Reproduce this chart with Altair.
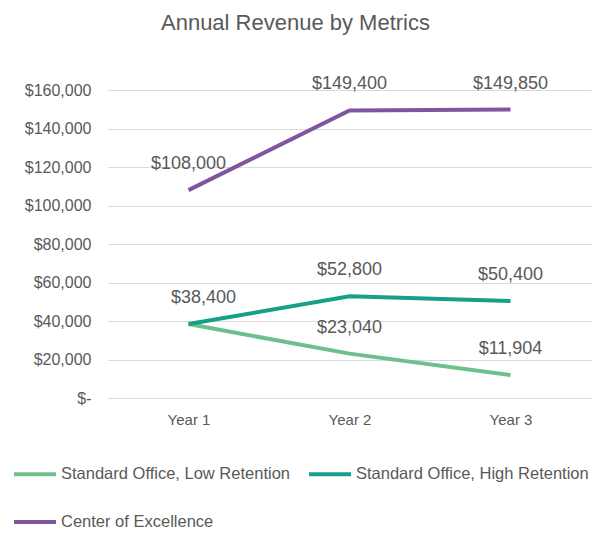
import altair as alt
import pandas as pd

years = ["Year 1", "Year 2", "Year 3"]
series_names = ["Standard Office, Low Retention", "Standard Office, High Retention", "Center of Excellence"]
low_retention = [38400, 23040, 11904]
high_retention = [38400, 52800, 50400]
center_excellence = [108000, 149400, 149850]
colors = ["#6dbf8c", "#16a08b", "#8055a0"]
y_ticks = [0, 20000, 40000, 60000, 80000, 100000, 120000, 140000, 160000]

rows = []
for name, vals in zip(series_names, [low_retention, high_retention, center_excellence]):
    for yr, v in zip(years, vals):
        rows.append({"Year": yr, "Series": name, "Revenue": v,
                     "Label": "${:,}".format(v)})
df = pd.DataFrame(rows)

FONT = "Liberation Sans"
GRAY = "#595959"

x_enc = alt.X("Year:N", sort=years, scale=alt.Scale(type="point", padding=0.5),
              axis=alt.Axis(title=None, labelFontSize=15, labelColor=GRAY, labelFont=FONT,
                            ticks=False, domain=True, domainColor="#d9d9d9", labelPadding=14,
                            labelAngle=0, grid=False))
y_enc = alt.Y("Revenue:Q", scale=alt.Scale(domain=[0, 160000], nice=False),
              axis=alt.Axis(title=None, values=y_ticks, tickCount=9, labelFontSize=16,
                            labelColor=GRAY, labelFont=FONT, ticks=False, domain=False,
                            gridColor="#d9d9d9", labelPadding=17, labelOverlap=False,
                            labelExpr="datum.value == 0 ? '$-\u2007\u2007' : '$' + format(datum.value, ',')"))

base = alt.Chart(df)

lines = base.mark_line(strokeWidth=4).encode(
    x=x_enc, y=y_enc,
    color=alt.Color("Series:N", sort=series_names,
                    scale=alt.Scale(domain=series_names, range=colors),
                    legend=alt.Legend(title=None, orient="none", legendX=-96, legendY=361,
                                      direction="horizontal",
                                      columns=2, symbolType="stroke", symbolSize=1764,
                                      symbolStrokeWidth=4, labelFontSize=16.5, labelColor=GRAY,
                                      labelFont=FONT, labelOffset=3, columnPadding=10,
                                      rowPadding=16, padding=0, labelLimit=400)),
)

labels_main = base.transform_filter(
    "datum.Year != 'Year 1' || datum.Series == 'Center of Excellence'"
).mark_text(fontSize=18, font=FONT, color=GRAY, dy=-26, baseline="middle").encode(
    x=x_enc, y=y_enc, text="Label:N")

labels_y1 = base.transform_filter(
    "datum.Year == 'Year 1' && datum.Series == 'Standard Office, Low Retention'"
).mark_text(fontSize=18, font=FONT, color=GRAY, dy=-26, dx=15, baseline="middle").encode(
    x=x_enc, y=y_enc, text="Label:N")

chart = alt.layer(lines, labels_main, labels_y1).properties(
    width=483, height=308,
    title=alt.TitleParams("Annual Revenue by Metrics", fontSize=22, font=FONT, color=GRAY,
                          fontWeight="normal", anchor="middle", dx=-54, offset=40),
    autosize="none",
    padding={"left": 100, "top": 82, "right": 15, "bottom": 132},
).configure_view(stroke=None)

chart.save("out.html", embed_options={"renderer": "svg", "actions": False})
